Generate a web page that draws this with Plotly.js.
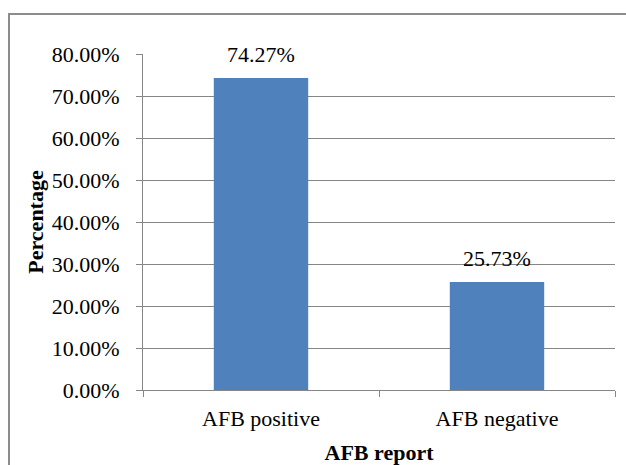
<!DOCTYPE html>
<html>
<head>
<meta charset="utf-8">
<script src="https://cdn.plot.ly/plotly-3.0.1.min.js"></script>
<style>html,body{margin:0;padding:0;background:#fff;}#chart{width:626px;height:465px;}</style>
</head>
<body>
<div id="chart"></div>
<script>
var categories = ["AFB positive", "AFB negative"];
var values = [0.7427, 0.2573];
var valueLabels = ["74.27%", "25.73%"];
var tickVals = [0, 0.1, 0.2, 0.3, 0.4, 0.5, 0.6, 0.7, 0.8];
var tickText = ["0.00%", "10.00%", "20.00%", "30.00%", "40.00%", "50.00%", "60.00%", "70.00%", "80.00%"];

var font = "'Liberation Serif', 'Times New Roman', serif";
var fs = 22;

var trace = {
  type: "bar",
  x: categories,
  y: values,
  marker: { color: "#4F81BD" },
  hoverinfo: "none"
};

var annotations = categories.map(function (c, i) {
  return {
    x: c, y: values[i], xref: "x", yref: "y",
    text: valueLabels[i], showarrow: false,
    yanchor: "bottom", yshift: 9,
    font: { family: font, size: fs, color: "#000" }
  };
});

var layout = {
  width: 626, height: 465,
  margin: { l: 143, r: 11, t: 54, b: 75 },
  paper_bgcolor: "#fff", plot_bgcolor: "#fff",
  showlegend: false,
  bargap: 0.6,
  font: { family: font, size: fs, color: "#000" },
  xaxis: {
    type: "category",
    showline: true, linecolor: "#868686", linewidth: 1,
    ticks: "outside", tickson: "boundaries", ticklen: 6, tickcolor: "#868686",
    ticklabelstandoff: 9,
    showgrid: false,
    tickfont: { family: font, size: fs, color: "#000" },
    title: { text: "<b>AFB report</b>", font: { family: font, size: fs, color: "#000" }, standoff: 14 }
  },
  yaxis: {
    range: [0, 0.8],
    tickvals: tickVals, ticktext: tickText,
    showline: true, linecolor: "#868686", linewidth: 1,
    ticks: "outside", ticklen: 6, tickcolor: "#868686",
    ticklabelstandoff: 12,
    showgrid: true, gridcolor: "#868686", gridwidth: 1,
    zeroline: false,
    tickfont: { family: font, size: fs, color: "#000" },
    title: { text: "<b>Percentage</b>", font: { family: font, size: fs, color: "#000" }, standoff: 2 }
  },
  annotations: annotations,
  shapes: [{
    type: "rect", xref: "paper", yref: "paper",
    x0: -0.2839, x1: 1.1, y0: -0.3, y1: 1.119,
    line: { color: "#8c8c8c", width: 2 }, fillcolor: "rgba(0,0,0,0)", layer: "below"
  }]
};

Plotly.newPlot("chart", [trace], layout, { staticPlot: true, displayModeBar: false });
</script>
</body>
</html>
